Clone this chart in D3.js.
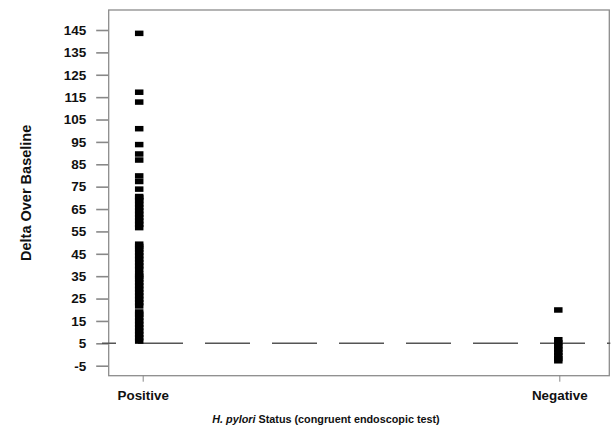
<!DOCTYPE html>
<html>
<head>
<meta charset="utf-8">
<script src="https://cdn.jsdelivr.net/npm/d3@7"></script>
<style>
  html, body { margin: 0; padding: 0; background: #fff; }
  svg { display: block; font-family: "Liberation Sans", Arial, sans-serif; }
</style>
</head>
<body>
<svg id="chart" width="611" height="436"></svg>
<script>
// ---- data ----
const categories = ["Positive", "Negative"];
const positiveValues = [
  6.0, 7.5, 9.0, 10.5, 12.0, 13.5, 15.0, 16.5, 18.0, 19.0,
  21.7, 23.2, 24.7, 26.2, 27.7, 29.2, 30.7, 32.2, 33.7, 35.0, 35.9,
  38.1, 39.6, 41.1, 42.6, 44.1, 45.6, 47.1, 48.3, 49.3,
  56.7, 58.2, 59.7, 61.2, 62.7, 64.2, 65.7, 67.2, 68.7, 70.0, 70.6,
  73.9, 77.3, 79.8, 86.9, 89.6, 93.8, 100.9, 112.8, 117.2, 143.5
];
const negativeValues = [19.9, 6.6, 5.2, 3.8, 2.4, 1.0, -0.4, -1.8, -2.8];
const yTickValues = [-5, 5, 15, 25, 35, 45, 55, 65, 75, 85, 95, 105, 115, 125, 135, 145];
const referenceValue = 5;

// ---- layout ----
const svg = d3.select("#chart");
const frame = { left: 108.7, right: 609.3, top: 10, bottom: 375.7 };

const y = d3.scaleLinear().domain([-5, 145]).range([365.7, 30]);
const x = d3.scalePoint().domain(categories).range([142.7, 559.3]);

// frame (plot box)
svg.append("rect")
  .attr("x", frame.left).attr("y", frame.top)
  .attr("width", frame.right - frame.left)
  .attr("height", frame.bottom - frame.top)
  .attr("fill", "none").attr("stroke", "#8c8c8c").attr("stroke-width", 1.3);

// y axis
const yAxis = d3.axisLeft(y).tickValues(yTickValues).tickSize(12).tickPadding(10).tickFormat(d => String(d));
const gy = svg.append("g").attr("transform", `translate(${frame.left - 0.5},0)`).call(yAxis);
gy.select(".domain").remove();
gy.selectAll(".tick line").attr("stroke", "#888").attr("stroke-width", 1.6);
gy.selectAll(".tick text")
  .attr("fill", "#111").attr("font-weight", "bold").attr("font-size", "13.5px")
  .attr("font-family", "'Liberation Sans', Arial, sans-serif");

// x axis
const xAxis = d3.axisBottom(x).tickSize(6).tickPadding(9);
const gx = svg.append("g").attr("transform", `translate(0,${frame.bottom})`).call(xAxis);
gx.select(".domain").remove();
gx.selectAll(".tick line").attr("stroke", "#888").attr("stroke-width", 1);
gx.selectAll(".tick text")
  .attr("fill", "#111").attr("font-weight", "bold").attr("font-size", "13.4px")
  .attr("font-family", "'Liberation Sans', Arial, sans-serif");

// reference dashed line
svg.append("line")
  .attr("x1", 102).attr("x2", frame.right + 1)
  .attr("y1", y(referenceValue)).attr("y2", y(referenceValue))
  .attr("stroke", "#555").attr("stroke-width", 1.6)
  .attr("stroke-dasharray", "45,22")
  .attr("stroke-dashoffset", 31);

// points
const mw = 8.5, mh = 5.5;
const pts = [
  ...positiveValues.map(v => ({ cat: "Positive", v, dx: -3.5 })),
  ...negativeValues.map(v => ({ cat: "Negative", v, dx: -1 }))
];
svg.append("g").selectAll("rect").data(pts).join("rect")
  .attr("x", d => x(d.cat) + d.dx - mw / 2)
  .attr("y", d => y(d.v) - mh / 2)
  .attr("width", mw).attr("height", mh)
  .attr("fill", "#000");

// axis titles
svg.append("text")
  .attr("transform", `translate(31,${(frame.top + frame.bottom) / 2}) rotate(-90)`)
  .attr("text-anchor", "middle")
  .attr("font-weight", "bold").attr("font-size", "14.5px").attr("fill", "#111")
  .text("Delta Over Baseline");

const xt = svg.append("text")
  .attr("x", 326).attr("y", 423)
  .attr("text-anchor", "middle")
  .attr("font-weight", "bold").attr("font-size", "10.8px").attr("fill", "#111");
xt.append("tspan").attr("font-style", "italic").text("H. pylori");
xt.append("tspan").text(" Status (congruent endoscopic test)");
</script>
</body>
</html>
